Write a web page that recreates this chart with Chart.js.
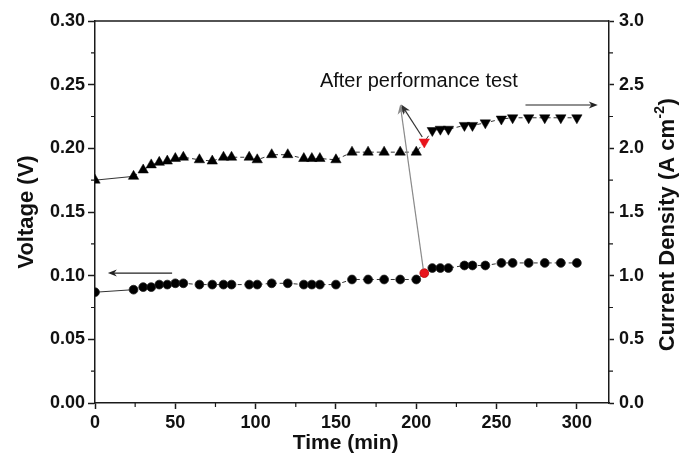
<!DOCTYPE html>
<html>
<head>
<meta charset="utf-8">
<script src="https://cdn.jsdelivr.net/npm/chart.js@4/dist/chart.umd.min.js"></script>
<style>
  html, body { margin: 0; padding: 0; background: #fff; }
  #wrap { width: 692px; height: 456px; }
</style>
</head>
<body>
<div id="wrap"><canvas id="c" width="692" height="456"></canvas></div>
<script>
// ---- data ----
const timeMin = [0, 24, 30, 35, 40, 45, 50, 55, 65, 73, 80, 85, 96, 101, 110, 120, 130, 135, 140, 150,
                 160, 170, 180, 190, 200, 205, 210, 215, 220, 230, 235, 243, 253, 260, 270, 280, 290, 300];
const currentDensity = [1.75, 1.78, 1.83, 1.87, 1.89, 1.90, 1.92, 1.93, 1.91, 1.90, 1.93, 1.93, 1.93, 1.91, 1.95, 1.95, 1.92, 1.92, 1.92, 1.91,
                        1.97, 1.97, 1.97, 1.97, 1.97, 2.05, 2.14, 2.15, 2.15, 2.18, 2.18, 2.20, 2.23, 2.24, 2.24, 2.24, 2.24, 2.24];
const voltage = [0.087, 0.089, 0.091, 0.091, 0.093, 0.093, 0.094, 0.094, 0.093, 0.093, 0.093, 0.093, 0.093, 0.093, 0.094, 0.094, 0.093, 0.093, 0.093, 0.093,
                 0.097, 0.097, 0.097, 0.097, 0.097, 0.102, 0.106, 0.106, 0.106, 0.108, 0.108, 0.108, 0.110, 0.110, 0.110, 0.110, 0.110, 0.110];
const afterTestTime = 205;
const xTickValues = [0, 50, 100, 150, 200, 250, 300];
const voltageTicks = [0.00, 0.05, 0.10, 0.15, 0.20, 0.25, 0.30];
const densityTicks = [0.0, 0.5, 1.0, 1.5, 2.0, 2.5, 3.0];
const xTitle = 'Time (min)';
const yTitle = 'Voltage (V)';
const y1TitleMain = 'Current Density (A cm';
const y1TitleSup = '-2';
const y1TitleEnd = ')';
const annotationText = 'After performance test';
// annotation anchors in data units (time, current density / voltage)
const annotationPos = { t: 140, j: 2.48 };
const arrowTip = { t: 190, j: 2.345 };
const rightArrow = { t0: 268, t1: 313, j: 2.34 };
const leftArrow = { t0: 48, t1: 8, v: 0.102 };
const xTitleAt = { t: 156 };
const y1TitleAt = { j: 1.4 };

const FONT = '"Liberation Sans", Arial, Helvetica, sans-serif';
const AX = '#1a1a1a';
const redIdx = timeMin.indexOf(afterTestTime);

const ptColors = timeMin.map((t, i) => i === redIdx ? '#e8141c' : '#000');
const triRot = timeMin.map(t => t >= afterTestTime ? 180 : 0);

const dashSeg = { borderDash: c => c.p0DataIndex === 0 ? undefined : [4, 3] };

function drawArrow(ctx, x0, y0, x1, y1, color, head = 9, half = 3.5, lw = 1) {
  const ang = Math.atan2(y1 - y0, x1 - x0);
  ctx.strokeStyle = color; ctx.fillStyle = color; ctx.lineWidth = lw;
  ctx.beginPath(); ctx.moveTo(x0, y0);
  ctx.lineTo(x1 - Math.cos(ang) * head * 0.6, y1 - Math.sin(ang) * head * 0.6); ctx.stroke();
  ctx.beginPath();
  ctx.moveTo(x1, y1);
  ctx.lineTo(x1 - Math.cos(ang) * head - Math.sin(ang) * half, y1 - Math.sin(ang) * head + Math.cos(ang) * half);
  ctx.lineTo(x1 - Math.cos(ang) * head * 0.7, y1 - Math.sin(ang) * head * 0.7);
  ctx.lineTo(x1 - Math.cos(ang) * head + Math.sin(ang) * half, y1 - Math.sin(ang) * head - Math.cos(ang) * half);
  ctx.closePath(); ctx.fill();
}

const overlay = {
  id: 'overlay',
  afterDraw(chart) {
    const { ctx, chartArea: a, scales } = chart;
    const x = scales.x, y = scales.y, y1 = scales.y1;
    ctx.save();
    // top frame line
    ctx.strokeStyle = AX; ctx.lineWidth = 1.5;
    ctx.beginPath(); ctx.moveTo(a.left, a.top); ctx.lineTo(a.right, a.top); ctx.stroke();
    // minor ticks
    ctx.lineWidth = 1.2;
    ctx.beginPath();
    for (let t = 25; t < 320; t += 50) {
      const px = x.getPixelForValue(t);
      ctx.moveTo(px, a.bottom); ctx.lineTo(px, a.bottom + 4);
    }
    for (let v = 0.025; v < 0.3; v += 0.05) {
      const py = y.getPixelForValue(v);
      ctx.moveTo(a.left - 4, py); ctx.lineTo(a.left, py);
    }
    for (let v = 0.25; v < 3; v += 0.5) {
      const py = y1.getPixelForValue(v);
      ctx.moveTo(a.right, py); ctx.lineTo(a.right + 4, py);
    }
    ctx.stroke();

    // x axis title
    ctx.fillStyle = '#111';
    ctx.font = 'bold 21px ' + FONT;
    ctx.textAlign = 'center'; ctx.textBaseline = 'middle';
    ctx.fillText(xTitle, x.getPixelForValue(xTitleAt.t), chart.height - 13);

    // right axis title (reads bottom to top) with superscript
    const big = 'bold 22px ' + FONT, small = 'bold 14px ' + FONT;
    ctx.font = big; const w1 = ctx.measureText(y1TitleMain).width; const w3 = ctx.measureText(y1TitleEnd).width;
    ctx.font = small; const w2 = ctx.measureText(y1TitleSup).width;
    const total = w1 + w2 + w3 + 1;
    ctx.save();
    ctx.translate(chart.width - 24, y1.getPixelForValue(y1TitleAt.j));
    ctx.rotate(-Math.PI / 2);
    ctx.textAlign = 'left'; ctx.textBaseline = 'middle';
    let cx = -total / 2;
    ctx.font = big; ctx.fillText(y1TitleMain, cx, 0); cx += w1 + 0.5;
    ctx.font = small; ctx.fillText(y1TitleSup, cx, -8); cx += w2 + 0.5;
    ctx.font = big; ctx.fillText(y1TitleEnd, cx, 0);
    ctx.restore();

    // annotation text
    ctx.fillStyle = '#111';
    ctx.font = '20px ' + FONT;
    ctx.textAlign = 'left'; ctx.textBaseline = 'alphabetic';
    ctx.fillText(annotationText, x.getPixelForValue(annotationPos.t), y1.getPixelForValue(annotationPos.j));

    // arrows from the red points to the tip
    const tipX = x.getPixelForValue(arrowTip.t), tipY = y1.getPixelForValue(arrowTip.j);
    const rcX = x.getPixelForValue(afterTestTime), rcY = y.getPixelForValue(voltage[redIdx]);
    const rtX = x.getPixelForValue(afterTestTime), rtY = y1.getPixelForValue(currentDensity[redIdx]);
    drawArrow(ctx, rcX - 1, rcY - 4, tipX, tipY, '#8a8a8a', 10, 4, 1.2);
    drawArrow(ctx, rtX - 2, rtY - 5, tipX + 1, tipY, '#333', 10, 4, 1.2);

    // horizontal axis-indicator arrows
    drawArrow(ctx, x.getPixelForValue(rightArrow.t0), y1.getPixelForValue(rightArrow.j),
              x.getPixelForValue(rightArrow.t1), y1.getPixelForValue(rightArrow.j), '#222', 9, 3.5, 1.1);
    drawArrow(ctx, x.getPixelForValue(leftArrow.t0), y.getPixelForValue(leftArrow.v),
              x.getPixelForValue(leftArrow.t1), y.getPixelForValue(leftArrow.v), '#222', 9, 3.5, 1.1);
    ctx.restore();
  }
};

const tickFont = { family: FONT, size: 18, weight: 'bold' };
const titleFont = { family: FONT, size: 22, weight: 'bold' };

new Chart(document.getElementById('c'), {
  type: 'scatter',
  data: {
    datasets: [
      {
        label: 'Current Density',
        yAxisID: 'y1',
        data: timeMin.map((t, i) => ({ x: t, y: currentDensity[i] })),
        showLine: true,
        borderColor: '#333',
        borderWidth: 1,
        segment: dashSeg,
        pointStyle: 'triangle',
        pointRotation: triRot,
        pointRadius: 6,
        pointHoverRadius: 6,
        pointBackgroundColor: ptColors,
        pointBorderColor: ptColors,
        pointBorderWidth: 0.5
      },
      {
        label: 'Voltage',
        yAxisID: 'y',
        data: timeMin.map((t, i) => ({ x: t, y: voltage[i] })),
        showLine: true,
        borderColor: '#333',
        borderWidth: 1,
        segment: dashSeg,
        pointStyle: 'circle',
        pointRadius: 4.4,
        pointHoverRadius: 4.4,
        pointBackgroundColor: ptColors,
        pointBorderColor: timeMin.map((t, i) => i === redIdx ? '#b00' : '#222'),
        pointBorderWidth: 0.8
      }
    ]
  },
  options: {
    responsive: false,
    animation: false,
    devicePixelRatio: 1,
    layout: { padding: { top: 21, left: 0, right: 0, bottom: 0 } },
    plugins: { legend: { display: false }, tooltip: { enabled: false } },
    scales: {
      x: {
        type: 'linear', position: 'bottom', min: 0, max: 320,
        afterBuildTicks: s => { s.ticks = xTickValues.map(v => ({ value: v })); },
        afterFit: s => { s.height = 53; },
        ticks: { font: tickFont, color: '#111', padding: 3, maxRotation: 0, autoSkip: false, callback: v => String(v) },
        grid: { drawOnChartArea: false, drawTicks: true, tickLength: 6, tickColor: AX, tickWidth: 1.5 },
        border: { display: true, color: AX, width: 1.5 },
        title: { display: false }
      },
      y: {
        type: 'linear', position: 'left', min: 0, max: 0.3,
        afterBuildTicks: s => { s.ticks = voltageTicks.map(v => ({ value: v })); },
        afterFit: s => { s.width = 95; },
        ticks: { font: tickFont, color: '#111', padding: 3, autoSkip: false, callback: v => Number(v).toFixed(2) },
        grid: { drawOnChartArea: false, drawTicks: true, tickLength: 7, tickColor: AX, tickWidth: 1.5 },
        border: { display: true, color: AX, width: 1.5 },
        title: { display: true, text: yTitle, font: titleFont, color: '#111', padding: { top: 14, bottom: 0 } }
      },
      y1: {
        type: 'linear', position: 'right', min: 0, max: 3,
        afterBuildTicks: s => { s.ticks = densityTicks.map(v => ({ value: v })); },
        afterFit: s => { s.width = 83; },
        ticks: { font: tickFont, color: '#111', padding: 5, autoSkip: false, callback: v => Number(v).toFixed(1) },
        grid: { drawOnChartArea: false, drawTicks: true, tickLength: 5, tickColor: AX, tickWidth: 1.5 },
        border: { display: true, color: AX, width: 1.5 },
        title: { display: false }
      }
    }
  },
  plugins: [overlay]
});
</script>
</body>
</html>
